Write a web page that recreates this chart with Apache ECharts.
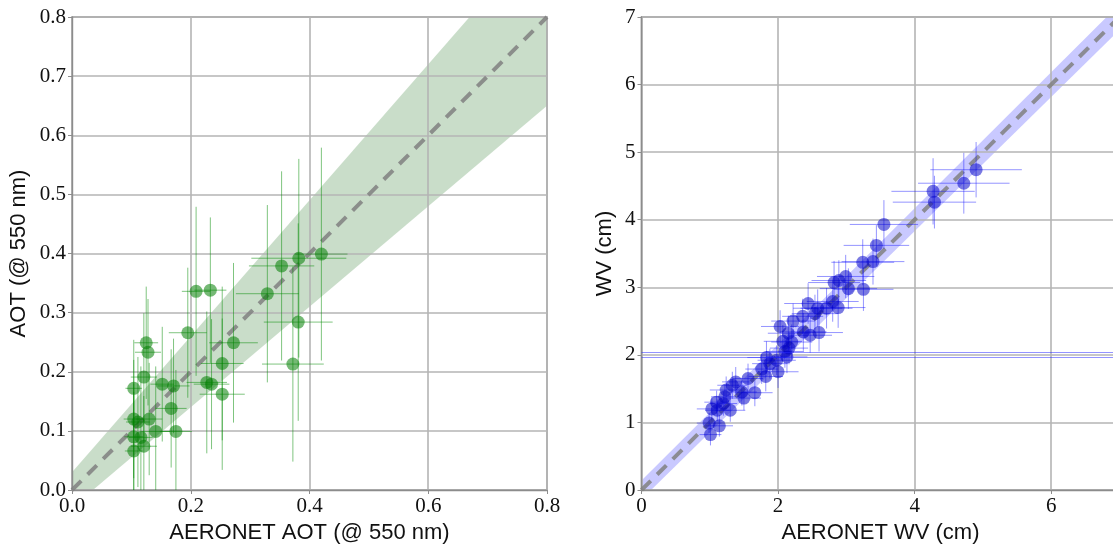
<!DOCTYPE html>
<html>
<head>
<meta charset="utf-8">
<script src="https://cdn.jsdelivr.net/npm/echarts@6/dist/echarts.min.js"></script>
<style>
  html, body { margin: 0; padding: 0; background: #fff; }
  #chart { width: 1113px; height: 547px; }
</style>
</head>
<body>
<div id="chart"></div>
<script>
// left panel: AOT retrieval vs AERONET (x, y, x error, y error)
const aotX = [0.209, 0.233, 0.195, 0.272, 0.125, 0.128, 0.253, 0.121, 0.104, 0.152, 0.171, 0.227, 0.235, 0.253, 0.167,
  0.104, 0.111, 0.130, 0.141, 0.175, 0.104, 0.116, 0.121, 0.104, 0.420, 0.382, 0.353, 0.329, 0.381, 0.372];
const aotY = [0.336, 0.338, 0.266, 0.249, 0.249, 0.233, 0.214, 0.191, 0.172, 0.179, 0.176, 0.182, 0.179, 0.162, 0.138,
  0.120, 0.115, 0.120, 0.099, 0.099, 0.090, 0.089, 0.074, 0.066, 0.399, 0.392, 0.379, 0.332, 0.284, 0.213];
const aotXErr = [0.024, 0.027, 0.032, 0.041, 0.020, 0.022, 0.036, 0.022, 0.014, 0.020, 0.027, 0.034, 0.030, 0.038, 0.026,
  0.017, 0.020, 0.022, 0.024, 0.027, 0.016, 0.020, 0.022, 0.015, 0.044, 0.080, 0.055, 0.053, 0.058, 0.052];
const aotYErr = [0.143, 0.123, 0.110, 0.135, 0.095, 0.090, 0.130, 0.108, 0.082, 0.097, 0.080, 0.120, 0.110, 0.128, 0.100,
  0.100, 0.110, 0.095, 0.110, 0.104, 0.090, 0.120, 0.085, 0.100, 0.180, 0.168, 0.160, 0.150, 0.167, 0.165];
// uncertainty envelope around the 1:1 line
const aotBandX = [0, 0.8];
const aotBandLow = [-0.03, 0.65];
const aotBandHigh = [0.03, 0.95];

// right panel: water vapour
const wvX = [1.01, 0.99, 1.14, 1.03, 1.11, 1.20, 1.30, 1.24, 1.38, 1.47, 1.50, 1.56, 1.66, 1.76, 1.83, 1.82, 1.88, 2.00,
  1.98, 2.13, 2.16, 2.20, 2.15, 2.03, 2.22, 2.36, 2.37, 2.47, 2.60, 2.44, 2.54, 2.58, 2.71, 2.80, 2.88, 2.82, 2.89, 2.99,
  3.03, 3.24, 3.25, 3.39, 3.44, 3.55, 4.27, 4.29, 4.72, 4.90, 1.10, 1.22, 1.33, 2.07, 2.10];
const wvY = [0.82, 0.99, 0.95, 1.20, 1.18, 1.28, 1.18, 1.48, 1.60, 1.45, 1.36, 1.65, 1.44, 1.79, 1.96, 1.68, 1.87, 1.75,
  1.92, 1.97, 2.10, 2.19, 2.32, 2.42, 2.50, 2.57, 2.34, 2.29, 2.33, 2.76, 2.61, 2.69, 2.69, 2.79, 2.70, 3.07, 3.10, 3.16,
  2.98, 3.37, 2.97, 3.38, 3.62, 3.93, 4.42, 4.26, 4.54, 4.74, 1.30, 1.38, 1.55, 2.20, 2.05];
const wvXErr = [0.16, 0.18, 0.20, 0.22, 0.18, 0.20, 0.22, 0.24, 0.20, 0.22, 0.25, 0.22, 0.26, 0.24, 0.28, 0.25, 0.26, 0.30,
  0.28, 0.30, 0.28, 0.30, 0.30, 0.28, 0.32, 0.30, 0.34, 0.32, 0.35, 0.35, 0.34, 0.36, 0.38, 0.38, 0.40, 0.38, 0.40, 0.42,
  0.42, 0.46, 0.44, 0.46, 0.48, 0.50, 0.61, 0.61, 0.67, 0.67, 0.18, 0.20, 0.22, 0.28, 0.28];
const wvYErr = [0.16, 0.15, 0.16, 0.17, 0.16, 0.18, 0.17, 0.20, 0.22, 0.20, 0.18, 0.22, 0.20, 0.22, 0.24, 0.22, 0.22, 0.24,
  0.22, 0.24, 0.24, 0.26, 0.26, 0.24, 0.26, 0.26, 0.28, 0.26, 0.28, 0.30, 0.28, 0.28, 0.30, 0.30, 0.30, 0.32, 0.30, 0.32,
  0.30, 0.34, 0.32, 0.34, 0.30, 0.36, 0.49, 0.39, 0.45, 0.41, 0.17, 0.18, 0.20, 0.24, 0.24];
const wvBandX = [0, 7];
const wvBandLow = [-0.14, 6.81];
const wvBandHigh = [0.14, 7.19];
// two stray horizontal error lines crossing the whole panel
const wvStrayY = [1.96, 2.04];

const chart = echarts.init(document.getElementById("chart"), null, { renderer: "canvas" });

const serif = "Liberation Serif";
const sans = "Liberation Sans";

function zip4(a, b, c, d) {
  return a.map((v, i) => [v, b[i], c[i], d[i]]);
}

function bandRender(bx, lo, hi, color) {
  return function (params, api) {
    if (params.dataIndex !== 0) return;
    const pts = [];
    for (let i = 0; i < bx.length; i++) pts.push(api.coord([bx[i], lo[i]]));
    for (let i = bx.length - 1; i >= 0; i--) pts.push(api.coord([bx[i], hi[i]]));
    return { type: "polygon", shape: { points: pts }, style: { fill: color } };
  };
}

function errRender(color) {
  return function (params, api) {
    const x = api.value(0), y = api.value(1), ex = api.value(2), ey = api.value(3);
    const h0 = api.coord([x - ex, y]), h1 = api.coord([x + ex, y]);
    const v0 = api.coord([x, y - ey]), v1 = api.coord([x, y + ey]);
    const st = { stroke: color, lineWidth: 1 };
    return {
      type: "group",
      children: [
        { type: "line", shape: { x1: h0[0], y1: h0[1], x2: h1[0], y2: h1[1] }, style: st },
        { type: "line", shape: { x1: v0[0], y1: v0[1], x2: v1[0], y2: v1[1] }, style: st },
      ],
    };
  };
}

const gridLine = { show: true, lineStyle: { color: "#b4b4b4", width: 1.6 } };
const axisLine = { show: true, lineStyle: { color: "#8c8c8c", width: 1.4 } };
const tick = { show: true, length: 4, lineStyle: { color: "#8c8c8c" } };
const tickLabel = { color: "#111", fontFamily: serif, fontSize: 21 };
const nameStyle = { color: "#111", fontFamily: sans, fontSize: 22 };

const option = {
  animation: false,
  backgroundColor: "#fff",
  grid: [
    { left: 72, top: 17, width: 475, height: 473, outerBoundsMode: "none", show: true, borderColor: "#8c8c8c", borderWidth: 1.4, backgroundColor: "transparent" },
    { left: 641.5, top: 17, width: 478, height: 473, outerBoundsMode: "none", show: true, borderColor: "#8c8c8c", borderWidth: 1.4, backgroundColor: "transparent" },
  ],
  xAxis: [
    {
      gridIndex: 0, type: "value", min: 0, max: 0.8, interval: 0.2,
      name: "AERONET AOT (@ 550 nm)", nameLocation: "middle", nameGap: 30, nameTextStyle: nameStyle,
      axisLine, axisTick: tick, splitLine: gridLine,
      axisLabel: { ...tickLabel, margin: 6, formatter: (v) => v.toFixed(1) },
    },
    {
      gridIndex: 1, type: "value", min: 0, max: 7, interval: 2,
      name: "AERONET WV (cm)", nameLocation: "middle", nameGap: 30, nameTextStyle: nameStyle,
      axisLine, axisTick: tick, splitLine: gridLine,
      axisLabel: { ...tickLabel, margin: 6, formatter: (v) => (v === 7 ? "" : String(v)) },
    },
  ],
  yAxis: [
    {
      gridIndex: 0, type: "value", min: 0, max: 0.8, interval: 0.1,
      name: "AOT (@ 550 nm)", nameLocation: "middle", nameGap: 42, nameTextStyle: nameStyle,
      axisLine, axisTick: tick, splitLine: gridLine,
      axisLabel: { ...tickLabel, margin: 6, formatter: (v) => v.toFixed(1) },
    },
    {
      gridIndex: 1, type: "value", min: 0, max: 7, interval: 1,
      name: "WV (cm)", nameLocation: "middle", nameGap: 26, nameTextStyle: nameStyle,
      axisLine, axisTick: tick, splitLine: gridLine,
      axisLabel: { ...tickLabel, margin: 6 },
    },
  ],
  series: [
    {
      type: "custom", xAxisIndex: 0, yAxisIndex: 0, z: -1, clip: true, silent: true,
      renderItem: bandRender(aotBandX, aotBandLow, aotBandHigh, "rgba(40,120,40,0.25)"),
      data: aotBandX.map((x, i) => [x, aotBandLow[i], aotBandHigh[i]]),
    },
    {
      type: "line", xAxisIndex: 0, yAxisIndex: 0, z: 2, symbol: "none", silent: true,
      lineStyle: { color: "rgba(128,128,128,0.85)", width: 4, type: [13, 9] },
      data: [[0, 0], [0.8, 0.8]],
    },
    {
      type: "custom", xAxisIndex: 0, yAxisIndex: 0, z: 3, clip: true,
      renderItem: errRender("rgba(0,140,0,0.5)"),
      data: zip4(aotX, aotY, aotXErr, aotYErr),
    },
    {
      type: "scatter", xAxisIndex: 0, yAxisIndex: 0, z: 4, symbolSize: 13,
      itemStyle: { color: "rgba(0,125,0,0.68)" },
      data: aotX.map((x, i) => [x, aotY[i]]),
    },
    {
      type: "custom", xAxisIndex: 1, yAxisIndex: 1, z: -1, clip: true, silent: true,
      renderItem: bandRender(wvBandX, wvBandLow, wvBandHigh, "rgba(60,60,255,0.28)"),
      data: wvBandX.map((x, i) => [x, wvBandLow[i], wvBandHigh[i]]),
    },
    {
      type: "line", xAxisIndex: 1, yAxisIndex: 1, z: 2, symbol: "none", silent: true,
      lineStyle: { color: "rgba(128,128,128,0.85)", width: 4, type: [13, 9] },
      data: [[0, 0], [7, 7]],
      markLine: {
        silent: true, symbol: "none", label: { show: false },
        lineStyle: { color: "rgba(40,40,255,0.5)", width: 1.2, type: "solid" },
        data: wvStrayY.map((y) => ({ yAxis: y })),
      },
    },
    {
      type: "custom", xAxisIndex: 1, yAxisIndex: 1, z: 3, clip: true,
      renderItem: errRender("rgba(20,20,255,0.45)"),
      data: zip4(wvX, wvY, wvXErr, wvYErr),
    },
    {
      type: "scatter", xAxisIndex: 1, yAxisIndex: 1, z: 4, symbolSize: 13,
      itemStyle: { color: "rgba(0,0,200,0.65)" },
      data: wvX.map((x, i) => [x, wvY[i]]),
    },
  ],
};

chart.setOption(option);
</script>
</body>
</html>
